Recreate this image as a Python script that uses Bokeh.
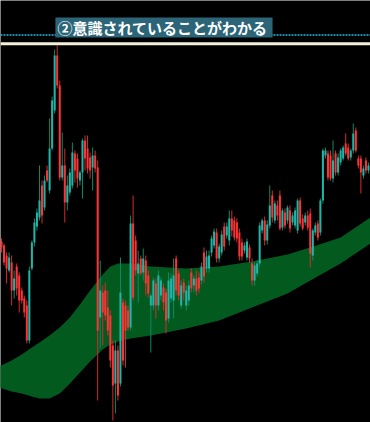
import numpy as np
from bokeh.plotting import figure
from bokeh.models import ColumnDataSource, Range1d, Span, BoxAnnotation, Label
from bokeh.embed import file_html
from bokeh.resources import INLINE

# OHLC prices, one bar per entry
open_ = [181, 177, 167, 152, 160, 132, 156, 147, 132, 124, 117, 82, 154, 180, 196, 205, 237, 215, 252, 232, 274, 312,
         367, 337, 245, 257, 220, 230, 237, 269, 264, 242, 250, 282, 274, 265, 255, 267, 255, 105, 130, 132,
         115, 107, 77, 39, 72, 39, 120, 117, 112, 95, 199, 182, 149, 164, 150, 162, 147, 117, 117, 139,
         117, 127, 135, 130, 104, 124, 122, 164, 149, 117, 140, 117, 122, 150, 137, 144, 145, 142, 170, 154,
         154, 170, 177, 190, 164, 170, 196, 187, 182, 204, 202, 200, 190, 180, 172, 165, 175, 159, 142, 149,
         159, 192, 202, 182, 197, 227, 202, 217, 227, 195, 210, 202, 212, 200, 197, 192, 222, 204, 200, 207,
         209, 167, 190, 199, 190, 222, 267, 269, 267, 244, 269, 250, 260, 264, 279, 275, 265, 272, 292, 264,
         264, 247, 262, 252]
high = [184, 179, 170, 170, 167, 152, 159, 150, 135, 127, 122, 156, 182, 204, 214, 257, 242, 247, 257, 304, 326, 373,
        377, 342, 290, 274, 247, 254, 280, 272, 269, 252, 284, 287, 287, 270, 275, 272, 262, 162, 137, 140,
        132, 112, 82, 82, 77, 165, 124, 122, 117, 207, 227, 187, 172, 167, 174, 167, 152, 129, 145, 144,
        152, 145, 139, 134, 150, 149, 164, 167, 152, 142, 144, 137, 142, 154, 147, 152, 150, 160, 175, 172,
        172, 187, 194, 194, 179, 192, 200, 200, 212, 212, 206, 204, 194, 184, 180, 184, 178, 164, 160, 162,
        200, 204, 206, 202, 237, 232, 222, 222, 232, 214, 214, 217, 217, 210, 215, 224, 225, 208, 210, 212,
        214, 194, 200, 202, 224, 274, 275, 272, 272, 282, 272, 269, 274, 277, 289, 279, 274, 299, 295, 267,
        267, 257, 265, 260]
low = [170, 157, 139, 150, 117, 124, 127, 110, 119, 105, 79, 79, 152, 176, 192, 202, 199, 212, 240, 229, 272, 309,
       334, 242, 242, 200, 212, 227, 234, 240, 235, 237, 224, 252, 249, 244, 232, 250, 22, 74, 77, 102,
       87, 55, 2, 9, 22, 36, 57, 55, 92, 92, 122, 147, 120, 147, 142, 127, 125, 70, 112, 104,
       112, 122, 112, 89, 100, 120, 104, 127, 122, 114, 122, 112, 117, 130, 130, 127, 130, 138, 140, 150,
       150, 166, 174, 160, 160, 167, 172, 184, 177, 186, 182, 180, 162, 162, 169, 162, 160, 137, 137, 146,
       156, 189, 177, 178, 194, 200, 199, 202, 192, 192, 194, 199, 190, 197, 194, 189, 196, 192, 197, 192,
       155, 162, 187, 182, 187, 219, 264, 242, 242, 240, 247, 247, 257, 262, 267, 262, 262, 269, 270, 254,
       229, 244, 249, 249]
close = [175, 160, 154, 165, 132, 144, 134, 122, 122, 110, 82, 152, 180, 200, 210, 222, 207, 242, 242, 274, 322, 367,
         337, 245, 257, 220, 237, 250, 270, 252, 244, 250, 282, 264, 254, 252, 267, 254, 92, 132, 110, 107,
         92, 62, 37, 72, 27, 130, 62, 92, 95, 199, 125, 152, 159, 149, 164, 139, 129, 127, 142, 117,
         147, 142, 120, 102, 142, 144, 147, 132, 127, 137, 130, 132, 137, 134, 144, 132, 134, 156, 146, 166,
         167, 184, 191, 164, 176, 188, 176, 196, 204, 192, 185, 184, 166, 166, 177, 181, 164, 142, 157, 159,
         197, 202, 182, 198, 217, 205, 219, 207, 194, 212, 197, 215, 194, 207, 212, 222, 199, 194, 207, 195,
         169, 192, 197, 185, 222, 272, 272, 245, 244, 262, 250, 265, 272, 275, 269, 264, 272, 289, 272, 257,
         250, 254, 252, 257]

# Cloud (span A / span B envelope) sampled at bar positions
cloud_x = [-1, 4, 8, 12, 15, 19, 23, 27, 31, 35, 40, 43, 46, 51, 59, 73, 86, 99, 113, 122, 134, 147]
cloud_upper = [56, 62, 68, 75, 80, 87, 95, 105, 118, 132, 148, 156, 159, 159, 156, 154, 156, 161, 168, 175, 185, 207]
cloud_lower = [35, 31, 29, 26, 24, 24, 29, 39, 50, 61, 73, 78, 81, 84, 87, 94, 102, 115, 129, 142, 159, 181]

# Horizontal reference levels
resistance_level = 378.7
alert_level = 387.5
note_text = "②意識されていることがわかる"

UP_BODY, UP_WICK = "#1fb5a7", "#0b8a68"
DN_BODY, DN_WICK = "#fb3437", "#d82a2c"

o = np.array(open_, dtype=float)
h = np.array(high, dtype=float)
l = np.array(low, dtype=float)
c = np.array(close, dtype=float)
idx = np.arange(len(o))
up = c >= o

src = ColumnDataSource(dict(
    x=idx, high=h, low=l,
    top=np.maximum(o, c), bottom=np.minimum(o, c),
    body=[UP_BODY if u else DN_BODY for u in up],
    wick=[UP_WICK if u else DN_WICK for u in up],
))

p = figure(width=370, height=422, output_backend="svg", toolbar_location=None,
           x_axis_location=None, y_axis_location=None, min_border=0,
           x_range=Range1d(-0.4, 145.8), y_range=Range1d(0, 422))
p.background_fill_color = "black"
p.border_fill_color = "black"
p.outline_line_color = None
p.grid.visible = False

# Cloud band
p.varea(x=cloud_x, y1=cloud_lower, y2=cloud_upper, fill_color="#035a1e", fill_alpha=1.0)

# Candles
p.segment(x0="x", y0="low", x1="x", y1="high", line_color="wick", line_width=1, source=src)
p.vbar(x="x", width=0.8, top="top", bottom="bottom", fill_color="body", line_color=None, source=src)

# Levels
p.add_layout(Span(location=alert_level, dimension="width", line_color="#1f8ba6",
                  line_width=2, line_dash="2 1"))
p.add_layout(Span(location=resistance_level, dimension="width", line_color="#f3f1dc",
                  line_width=3))

# Note box
p.add_layout(BoxAnnotation(left=21.3, right=107.1, bottom=385, top=405,
                           fill_color="#2b6577", fill_alpha=1.0, line_color=None))
p.add_layout(Label(x=22.1, y=395, text=note_text, text_color="white",
                   text_font="Noto Sans CJK JP", text_font_style="bold",
                   text_font_size="15px", text_baseline="middle", text_align="left"))

open("out.html", "w").write(file_html(p, INLINE))
